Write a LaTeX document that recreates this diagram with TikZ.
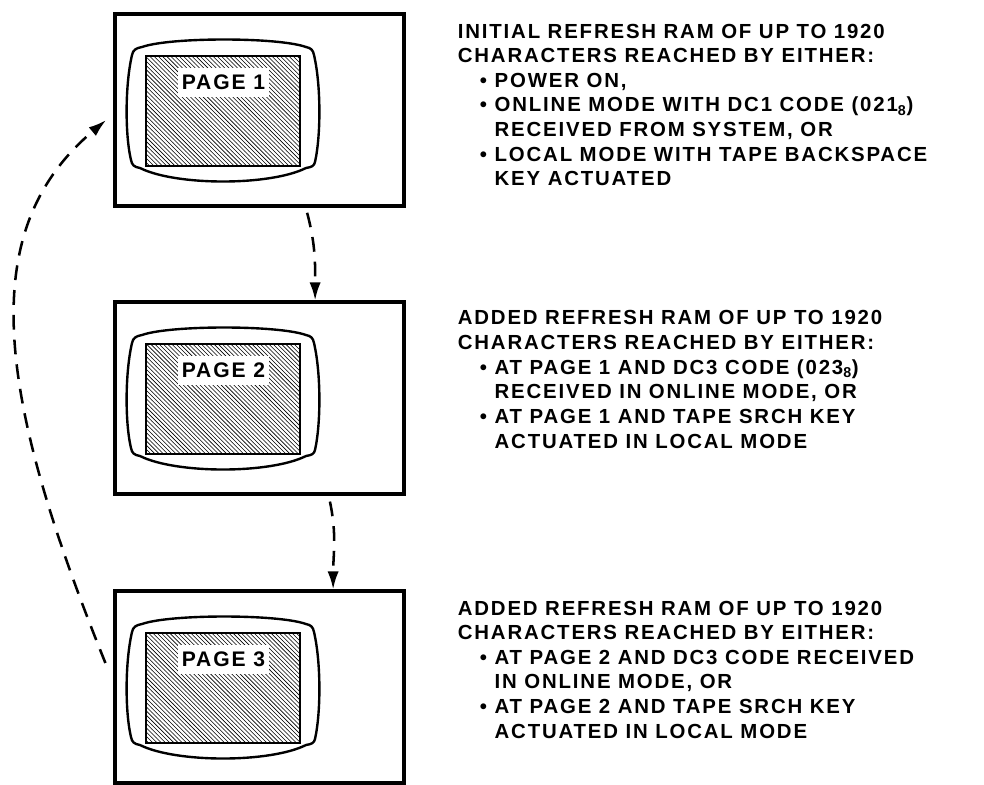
\documentclass[tikz,border=0pt]{standalone}
\usepackage{fontspec}
\setmainfont{Liberation Sans}
\newfontfamily\lettering{Liberation Sans}[LetterSpace=9]
\usetikzlibrary{arrows.meta, patterns}
\newcommand\itemdot{\hspace*{0.55cm}\makebox[0.37cm][l]{\textbullet}}
\newcommand\itemgap{\hspace*{0.92cm}}

\begin{document}
\begin{tikzpicture}[x=0.025cm, y=-0.025cm,
  pagebox/.style={draw, line width=2.2pt, minimum width=7.225cm, minimum height=4.8cm, inner sep=0pt},
  screenlabel/.style={fill=white, inner xsep=0.1cm, inner ysep=0.17cm, font=\lettering\bfseries\fontsize{15}{16}\selectfont},
  note/.style={anchor=north west, inner sep=0pt, align=left, font=\lettering\bfseries\fontsize{14.5}{17.5}\selectfont},
  flow/.style={line width=1.8pt, dash pattern=on 0.37cm off 0.25cm, -{Latex[length=0.45cm,width=0.28cm]}},
]
  \useasboundingbox (0,0) rectangle (984,784);

  % Pages with screen
  \foreach \i/\dy in {1/0, 2/288, 3/577} {
    \begin{scope}[shift={(0,\dy)}]
      \node[pagebox] (box\i) at (259.5,110) {};
      \draw[line width=1.7pt, line join=round] (142,47) .. controls (170,37) and (278,37) .. (306,47)
        .. controls (311,48) and (313,50) .. (314,55)
        .. controls (321,85) and (321,135) .. (315,162)
        .. controls (314,166) and (312,167) .. (306,168)
        .. controls (270,186) and (176,186) .. (140,168)
        .. controls (134,167) and (132,165) .. (131,160)
        .. controls (125,135) and (125,85) .. (132,55)
        .. controls (133,50) and (136,48) .. cycle;
      \draw[line width=1.7pt, pattern=north west lines] (146,56) rectangle (300,166);
      \node[screenlabel] (lab\i) at (223.5,82.5) {PAGE \i};
    \end{scope}
  }

  % Notes
  \node[note] (note1) at ([xshift=1.3cm, yshift=-0.28cm]box1.north east) {INITIAL REFRESH RAM OF UP TO 1920\\
    CHARACTERS REACHED BY EITHER:\\
    \itemdot POWER ON,\\
    \itemdot ONLINE MODE WITH DC1 CODE (021\textsubscript{8})\\
    \itemgap RECEIVED FROM SYSTEM, OR\\
    \itemdot LOCAL MODE WITH TAPE BACKSPACE\\
    \itemgap KEY ACTUATED};
  \node[note] (note2) at ([xshift=1.3cm, yshift=-0.25cm]box2.north east) {ADDED REFRESH RAM OF UP TO 1920\\
    CHARACTERS REACHED BY EITHER:\\
    \itemdot AT PAGE 1 AND DC3 CODE (023\textsubscript{8})\\
    \itemgap RECEIVED IN ONLINE MODE, OR\\
    \itemdot AT PAGE 1 AND TAPE SRCH KEY\\
    \itemgap ACTUATED IN LOCAL MODE};
  \node[note] (note3) at ([xshift=1.3cm, yshift=-0.28cm]box3.north east) {ADDED REFRESH RAM OF UP TO 1920\\
    CHARACTERS REACHED BY EITHER:\\
    \itemdot AT PAGE 2 AND DC3 CODE RECEIVED\\
    \itemgap IN ONLINE MODE, OR\\
    \itemdot AT PAGE 2 AND TAPE SRCH KEY\\
    \itemgap ACTUATED IN LOCAL MODE};

  % Page flow
  \draw[flow] ([xshift=1.19cm, yshift=-0.13cm]box1.south) to[out=-75, in=90] ([xshift=1.39cm]box2.north);
  \draw[flow] ([xshift=1.76cm, yshift=-0.15cm]box2.south) to[out=-78, in=90] ([xshift=1.84cm]box3.north);
  \draw[flow] ([xshift=-0.2cm, yshift=0.6cm]box3.west) .. controls +(112:7.25cm) and +(220:4.3cm) .. ([xshift=-0.18cm, yshift=-0.25cm]box1.west);
\end{tikzpicture}
\end{document}
